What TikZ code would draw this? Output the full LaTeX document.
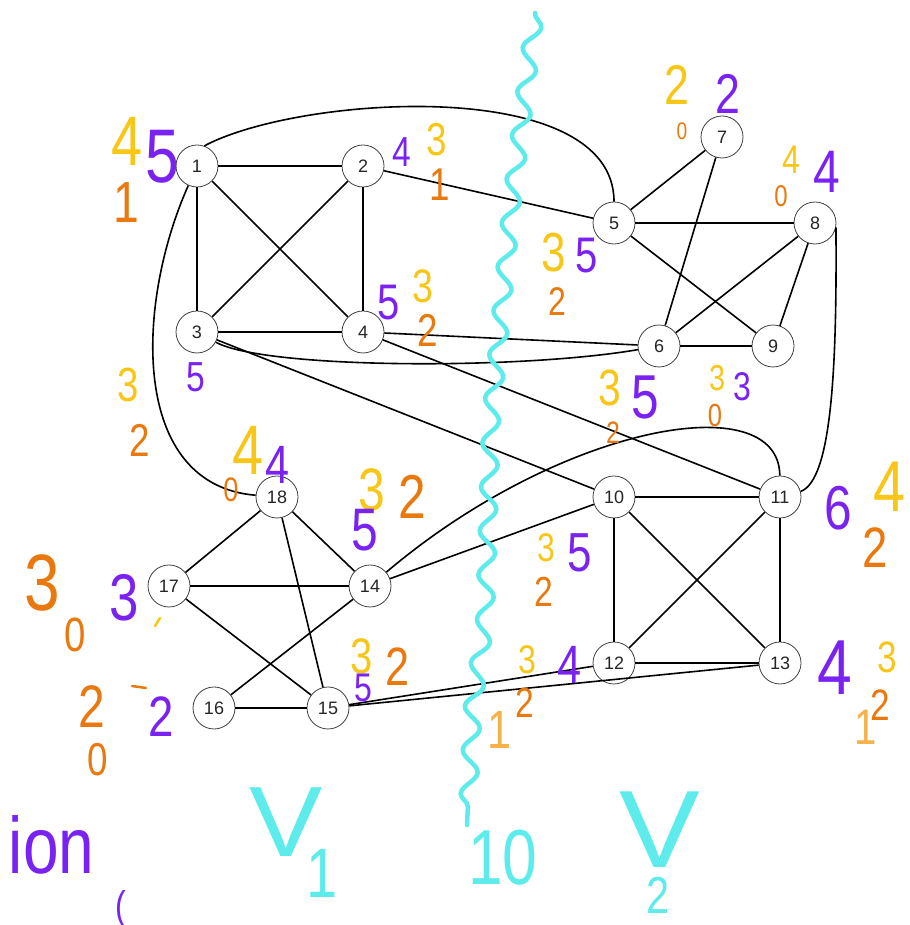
\documentclass[tikz,border=0pt]{standalone}
\usepackage{fontspec}
\setmainfont{Liberation Sans}
\newfontfamily\handfont[FakeStretch=0.8]{Liberation Sans}
\newfontfamily\vfont[FakeStretch=1.1]{Liberation Sans}
\usetikzlibrary{positioning,decorations.pathmorphing}

\definecolor{hwyellow}{HTML}{F8C617}
\definecolor{hworange}{HTML}{E9790F}
\definecolor{hwpale}{HTML}{F6B24A}
\definecolor{hwpurple}{HTML}{7A22F2}
\definecolor{hwcyan}{HTML}{5DEBEB}

\tikzset{
  vertex/.style={circle,draw=black!75,fill=white,line width=0.8pt,minimum size=42pt,inner sep=0pt,
    text=black!85,font=\fontsize{18}{18}\selectfont},
  hand/.style={inner sep=0pt,font=\handfont\fontsize{#1}{#1}\selectfont},
  bigv/.style={inner sep=0pt,text=hwcyan,font=\vfont\fontsize{#1}{#1}\selectfont},
  yel/.style={text=hwyellow},
  ora/.style={text=hworange},
  pal/.style={text=hwpale},
  pur/.style={text=hwpurple},
  cya/.style={text=hwcyan}
}

\begin{document}
\begin{tikzpicture}[x=1pt,y=1pt,node distance=166pt,line width=1.6pt]
        \useasboundingbox (0,0) rectangle (909,925);
        % the graph
        \node[vertex] (n1) at (197,759) {1};
        \node[vertex] (n2) [right of=n1] {2};
        \node[vertex] (n3) [below of=n1] {3};
        \node[vertex] (n4) [right of=n3] {4};
        \node[vertex] (n5) at (614,702) {5};
        \node[vertex] (n6) at (659,579) {6};
        \node[vertex] (n7) at (722,788) {7};
        \node[vertex] (n8) at (815,702) {8};
        \node[vertex] (n9) at (773,579) {9};
        \node[vertex] (n10) at (614,428) {10};
        \node[vertex] (n11) [right of=n10] {11};
        \node[vertex] (n12) [below of=n10] {12};
        \node[vertex] (n13) [right of=n12] {13};
        \node[vertex] (n14) at (370,339) {14};
        \node[vertex] (n15) at (328,217) {15};
        \node[vertex] (n16) at (214,217) {16};
        \node[vertex] (n17) at (169,339) {17};
        \node[vertex] (n18) at (277,428) {18};
        \draw (n1) to (n2);
        \draw (n1) to (n3);
        \draw (n1) to (n4);
        \draw (n2) to (n3);
        \draw (n2) to (n4);
        \draw (n3) to (n4);
        \draw (n2) to (n5);
        \draw (n1.70) .. controls (300,830) and (614,850) .. (n5);
        \draw (n1) .. controls (135,620) and (130,440) .. (n18);
        \draw (n3) .. controls (265,556) and (520,555) .. (n6);
        \draw (n4) to (n6);
        \draw (n3) to (n10);
        \draw (n4) to (n11);
        \draw (n5) to (n7);
        \draw (n5) to (n8);
        \draw (n5) to (n9);
        \draw (n7) to (n6);
        \draw (n8) to (n6);
        \draw (n8) to (n9);
        \draw (n6) to (n9);
        \draw (n8.-12) .. controls (837,560) and (832,445) .. (n11.15);
        \draw (n10) to (n11);
        \draw (n10) to (n12);
        \draw (n10) to (n13);
        \draw (n11) to (n12);
        \draw (n11) to (n13);
        \draw (n12) to (n13);
        \draw (n14) to (n10);
        \draw (n14) .. controls (560,500) and (779,540) .. (n11);
        \draw (n18) to (n17);
        \draw (n18) to (n14);
        \draw (n18) to (n15);
        \draw (n17) to (n14);
        \draw (n17) to (n15);
        \draw (n16) to (n14);
        \draw (n16) to (n15);
        \draw (n15) to (n12);
        \draw (n15) to (n13);
        % handwritten counts
        \node[hand=70,yel] (y1) at (127,784) {4};
        \node[hand=76,pur] (p1) at (162,768) {5};
        \node[hand=58,ora] (o1) at (126,722) {1};
        \node[hand=42,pur] (p2) at (402,773) {4};
        \node[hand=46,yel] (y2) at (437,785) {3};
        \node[hand=46,ora] (o2) at (440,740) {1};
        \node[hand=42,pur] (p3) at (196,548) {5};
        \node[hand=48,yel] (y3) at (128,540) {3};
        \node[hand=46,ora] (o3) at (140,485) {2};
        \node[hand=50,pur] (p4) at (389,622) {5};
        \node[hand=47,yel] (y4) at (423,639) {3};
        \node[hand=46,ora] (o4) at (428,595) {2};
        \node[hand=55,yel] (y5) at (554,672) {3};
        \node[hand=50,pur] (p5) at (587,669) {5};
        \node[hand=40,ora] (o5) at (557,623) {2};
        \node[hand=51,yel] (y6) at (610,537) {3};
        \node[hand=62,pur] (p6) at (645,528) {5};
        \node[hand=31,ora] (o6) at (613,492) {2};
        \node[hand=56,yel] (y7) at (677,840) {2};
        \node[hand=56,pur] (p7) at (728,831) {2};
        \node[hand=24,ora] (o7) at (682,794) {0};
        \node[hand=40,yel] (y8) at (791,765) {4};
        \node[hand=60,pur] (p8) at (827,753) {4};
        \node[hand=30,ora] (o8) at (781,729) {0};
        \node[hand=36,yel] (y9) at (717,547) {3};
        \node[hand=40,pur] (p9) at (742,538) {3};
        \node[hand=32,ora] (o9) at (715,510) {0};
        \node[hand=40,yel] (y10) at (546,377) {3};
        \node[hand=55,pur] (p10) at (580,372) {5};
        \node[hand=42,ora] (o10) at (544,333) {2};
        \node[hand=62,pur] (p11) at (838,417) {6};
        \node[hand=72,yel] (y11) at (890,438) {4};
        \node[hand=57,ora] (o11) at (875,377) {2};
        \node[hand=40,yel] (y12) at (527,265) {3};
        \node[hand=54,pur] (p12) at (570,260) {4};
        \node[hand=42,ora] (o12) at (525,222) {2};
        \node[hand=54,pal] (q12) at (500,195) {1};
        \node[hand=78,pur] (p13) at (835,257) {4};
        \node[hand=44,yel] (y13) at (887,268) {3};
        \node[hand=44,ora] (o13) at (880,220) {2};
        \node[hand=50,pal] (q13) at (866,198) {1};
        \node[hand=60,yel] (y14) at (372,435) {3};
        \node[hand=62,ora] (o14) at (412,428) {2};
        \node[hand=60,pur] (p14) at (365,395) {5};
        \node[hand=50,yel] (y15) at (362,269) {3};
        \node[hand=54,ora] (o15) at (398,258) {2};
        \node[hand=40,pur] (p15) at (363,237) {5};
        \node[hand=60,ora] (y16) at (92,218) {2};
        \node[hand=57,pur] (p16) at (161,208) {2};
        \node[hand=46,ora] (o16) at (98,165) {0};
        \node[hand=80,ora] (y17) at (42,342) {3};
        \node[hand=66,pur] (p17) at (124,327) {3};
        \node[hand=48,ora] (o17) at (75,290) {0};
        \node[hand=70,yel] (y18) at (248,475) {4};
        \node[hand=54,pur] (p18) at (278,460) {4};
        \node[hand=34,ora] (o18) at (231,435) {0};
        \draw[hwyellow,line width=2.5pt,line cap=round] (155,299) -- (160,307);
        \draw[hworange,line width=2.5pt,line cap=round] (132,239) -- (146,237);
        \node[hand=80,pur,anchor=east] (ion) at (95,80) {ion};
        \node[hand=40,pur] (par) at (121,16) {(};
        % the cut
        \draw[hwcyan,line width=4.5pt,line cap=round,decorate,
              decoration={snake,amplitude=8pt,segment length=44pt}]
              (535,912) -- (512,725) -- (493,525) -- (487,325) -- (473,225) -- (467,100);
        \node[bigv=100] (va) at (286,103) {V};
        \node[hand=70,cya] (va1) at (322,52) {1};
        \node[hand=78,cya] (cut) at (503,67) {10};
        \node[bigv=110] (vb) at (660,95) {V};
        \node[hand=52,cya] (vb2) at (658,30) {2};
    \end{tikzpicture}
\end{document}
